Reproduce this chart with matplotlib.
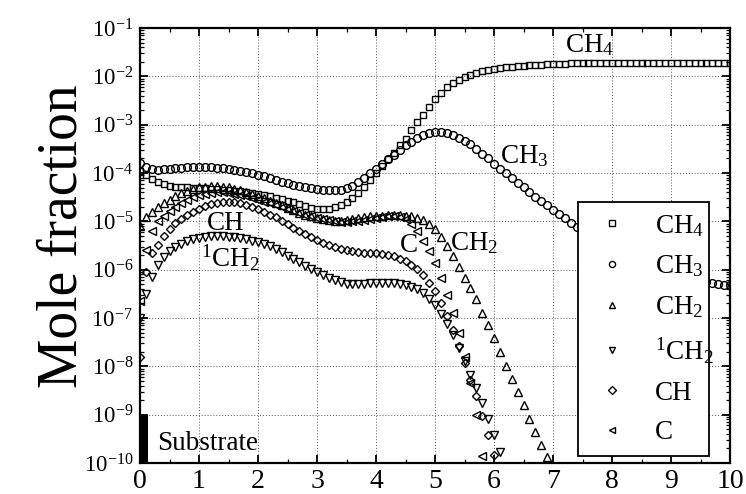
import numpy as np
import matplotlib
matplotlib.use("Agg")
import matplotlib.pyplot as plt
from matplotlib.ticker import LogLocator, MultipleLocator, NullFormatter
from matplotlib.lines import Line2D

plt.rcParams['font.family'] = ['Liberation Serif', 'DejaVu Serif']
plt.rcParams['mathtext.fontset'] = 'custom'
plt.rcParams['mathtext.rm'] = 'Liberation Serif'
plt.rcParams['mathtext.it'] = 'Liberation Serif:italic'
plt.rcParams['mathtext.bf'] = 'Liberation Serif:bold'

# ---- data (log10 of mole fraction, x step 0.1 mm) ----
x = np.round(np.linspace(0.0, 10.0, 101), 1)

ch4_log = [-3.95, -4.05, -4.13, -4.19, -4.23, -4.26, -4.28, -4.29, -4.30, -4.31,
           -4.32, -4.32, -4.33, -4.34, -4.35, -4.36, -4.37, -4.38, -4.40, -4.41,
           -4.43, -4.45, -4.48, -4.51, -4.54, -4.57, -4.61, -4.65, -4.69, -4.72,
           -4.74, -4.75, -4.74, -4.71, -4.66, -4.59, -4.51, -4.41, -4.29, -4.15,
           -3.99, -3.85, -3.72, -3.58, -3.43, -3.29, -3.12, -2.95, -2.80, -2.63,
           -2.47, -2.34, -2.23, -2.14, -2.07, -2.02, -1.97, -1.94, -1.90, -1.87,
           -1.84, -1.82, -1.81, -1.80, -1.79, -1.78, -1.77, -1.76, -1.76, -1.75,
           -1.75, -1.74, -1.74, -1.73, -1.73, -1.73, -1.72, -1.72, -1.72, -1.72,
           -1.72, -1.72, -1.72, -1.72, -1.72, -1.72, -1.72, -1.72, -1.72, -1.72,
           -1.72, -1.72, -1.72, -1.72, -1.72, -1.72, -1.72, -1.72, -1.72, -1.72,
           -1.72]

ch3_log = [-3.80, -3.88, -3.92, -3.93, -3.92, -3.91, -3.90, -3.89, -3.88, -3.87,
           -3.87, -3.87, -3.88, -3.89, -3.90, -3.92, -3.94, -3.96, -3.98, -4.01,
           -4.04, -4.07, -4.10, -4.14, -4.18, -4.21, -4.24, -4.27, -4.30, -4.32,
           -4.34, -4.35, -4.36, -4.36, -4.35, -4.32, -4.26, -4.18, -4.10, -4.01,
           -3.92, -3.82, -3.72, -3.62, -3.52, -3.43, -3.35, -3.27, -3.21, -3.17,
           -3.15, -3.15, -3.17, -3.21, -3.27, -3.33, -3.41, -3.50, -3.60, -3.70,
           -3.81, -3.91, -4.01, -4.11, -4.20, -4.30, -4.40, -4.49, -4.58, -4.67,
           -4.76, -4.85, -4.94, -5.03, -5.11, -5.19, -5.27, -5.35, -5.42, -5.49,
           -5.56, -5.62, -5.68, -5.74, -5.80, -5.85, -5.90, -5.95, -6.00, -6.04,
           -6.08, -6.12, -6.15, -6.18, -6.21, -6.24, -6.26, -6.28, -6.30, -6.31,
           -6.32]

ch2_log = [-5.10, -4.92, -4.80, -4.70, -4.62, -4.55, -4.48, -4.42, -4.37, -4.33,
           -4.30, -4.28, -4.27, -4.27, -4.28, -4.30, -4.33, -4.36, -4.40, -4.44,
           -4.48, -4.52, -4.57, -4.62, -4.67, -4.72, -4.77, -4.82, -4.86, -4.90,
           -4.93, -4.96, -4.98, -4.99, -4.99, -4.98, -4.96, -4.94, -4.92, -4.90,
           -4.89, -4.88, -4.87, -4.87, -4.87, -4.88, -4.90, -4.93, -4.98, -5.05,
           -5.15, -5.32, -5.52, -5.72, -5.95, -6.17, -6.38, -6.61, -6.90, -7.15,
           -7.42, -7.70, -7.99, -8.26, -8.54, -8.81, -9.08, -9.35, -9.63, -9.88]

sch2_log = [-7.00, -6.50, -6.15, -5.90, -5.74, -5.62, -5.53, -5.46, -5.41, -5.37,
            -5.34, -5.32, -5.31, -5.31, -5.31, -5.32, -5.33, -5.35, -5.37, -5.40,
            -5.43, -5.47, -5.52, -5.58, -5.64, -5.71, -5.78, -5.85, -5.92, -5.99,
            -6.05, -6.11, -6.17, -6.22, -6.26, -6.29, -6.30, -6.30, -6.29, -6.28,
            -6.28, -6.28, -6.28, -6.28, -6.29, -6.32, -6.36, -6.41, -6.49, -6.60,
            -6.74, -6.92, -7.12, -7.36, -7.62, -7.90, -8.18, -8.45, -8.75, -9.08,
            -9.42, -9.77]

ch_log = [-7.80, -6.05, -5.65, -5.48, -5.30, -5.15, -5.04, -4.95, -4.87, -4.80,
          -4.74, -4.69, -4.65, -4.62, -4.60, -4.60, -4.61, -4.63, -4.66, -4.70,
          -4.74, -4.80, -4.86, -4.92, -4.99, -5.06, -5.13, -5.20, -5.26, -5.32,
          -5.38, -5.44, -5.49, -5.53, -5.57, -5.60, -5.62, -5.64, -5.65, -5.66,
          -5.66, -5.67, -5.69, -5.72, -5.77, -5.83, -5.90, -5.99, -6.12, -6.28,
          -6.45, -6.68, -6.95, -7.25, -7.58, -7.93, -8.28, -8.62, -9.03, -9.43,
          -9.84]

c_log = [-6.65, -5.60, -5.20, -5.00, -4.88, -4.78, -4.70, -4.62, -4.55, -4.50,
         -4.46, -4.43, -4.41, -4.40, -4.40, -4.41, -4.43, -4.45, -4.48, -4.51,
         -4.55, -4.59, -4.63, -4.67, -4.71, -4.75, -4.79, -4.83, -4.87, -4.90,
         -4.93, -4.96, -4.98, -5.00, -5.01, -5.01, -5.00, -4.99, -4.97, -4.95,
         -4.93, -4.91, -4.90, -4.90, -4.92, -4.96, -5.05, -5.20, -5.40, -5.62,
         -5.87, -6.17, -6.52, -6.90, -7.32, -7.80, -8.35, -9.00, -9.85]

series_names = ['CH$_4$', 'CH$_3$', 'CH$_2$', '$^1$CH$_2$', 'CH', 'C']
series_logs = [ch4_log, ch3_log, ch2_log, sch2_log, ch_log, c_log]
series_markers = ['s', 'o', '^', 'v', 'D', '<']

substrate_x = [0.0, 0.14]
substrate_y = [1e-10, 1e-9]

xticks = list(range(0, 11))

# ---- figure ----
fig = plt.figure(figsize=(7.46, 4.94), dpi=100)
ax = fig.add_axes([140 / 746, 31 / 494, 590 / 746, 435 / 494])
ax.set_yscale('log')
ax.set_xlim(0, 10)
ax.set_ylim(1e-10, 1e-1)

marker_sizes = {'s': 5.0, 'o': 5.6, '^': 5.6, 'v': 5.6, 'D': 4.4, '<': 5.6}
for name, vals, mk in zip(series_names, series_logs, series_markers):
    v = 10.0 ** np.array(vals)
    ax.plot(x[:len(v)], v, linestyle='none', marker=mk,
            markersize=marker_sizes[mk],
            markerfacecolor='none', markeredgecolor='black',
            markeredgewidth=1.0, clip_on=True, zorder=3)

ax.fill_between(substrate_x, substrate_y[0], substrate_y[1], color='black',
                zorder=4, linewidth=0)

# ticks
ax.set_xticks(xticks)
ax.xaxis.set_minor_locator(MultipleLocator(0.5))
ax.yaxis.set_major_locator(LogLocator(base=10, numticks=20))
ax.yaxis.set_minor_locator(LogLocator(base=10, subs=np.arange(2, 10), numticks=200))
ax.yaxis.set_minor_formatter(NullFormatter())
ax.tick_params(which='both', direction='in', top=True, right=True)
ax.tick_params(which='major', length=6, width=1.3, pad=5)
ax.tick_params(axis='y', which='major', labelsize=16.5)
ax.tick_params(axis='x', which='major', labelsize=20, pad=4)
ax.tick_params(which='minor', length=3, width=0.9)
for sp in ax.spines.values():
    sp.set_linewidth(1.6)

ax.grid(True, which='major', linestyle=(0, (1, 2)), color='#555555', linewidth=0.7)
ax.set_axisbelow(True)

# in-plot labels
lab_fs = 19.5
ax.text(7.2, 10 ** -1.50, 'CH$_4$', fontsize=lab_fs, va='baseline', ha='left')
ax.text(6.1, 10 ** -3.79, 'CH$_3$', fontsize=lab_fs, va='baseline', ha='left')
ax.text(1.14, 10 ** -5.18, 'CH', fontsize=lab_fs, va='baseline', ha='left')
ax.text(1.03, 10 ** -5.945, '$^1$CH$_2$', fontsize=lab_fs, va='baseline', ha='left')
ax.text(4.41, 10 ** -5.63, 'C', fontsize=lab_fs, va='baseline', ha='left')
ax.text(5.25, 10 ** -5.59, 'CH$_2$', fontsize=lab_fs, va='baseline', ha='left')
ax.text(0.29, 10 ** -9.73, 'Substrate', fontsize=lab_fs, va='baseline', ha='left',
        zorder=5)

# legend
handles = [Line2D([], [], linestyle='none', marker=mk, markersize=4.4,
                  markerfacecolor='none', markeredgecolor='black',
                  markeredgewidth=1.0) for mk in series_markers]
leg = ax.legend(handles, series_names, loc='upper left',
                bbox_to_anchor=(0.742, 0.60, 0.222, 0.0), mode='expand',
                fontsize=lab_fs, frameon=True, fancybox=False, framealpha=1,
                edgecolor='black', borderpad=0.4, handlelength=1.7,
                handletextpad=0.75, labelspacing=0.55, borderaxespad=0)
leg.get_frame().set_linewidth(1.3)
leg.set_zorder(10)

fig.text(63 / 746, 1 - 236 / 494, 'Mole fraction', rotation=90, fontsize=40,
         ha='center', va='center')

fig.savefig('out.png', dpi=100)
